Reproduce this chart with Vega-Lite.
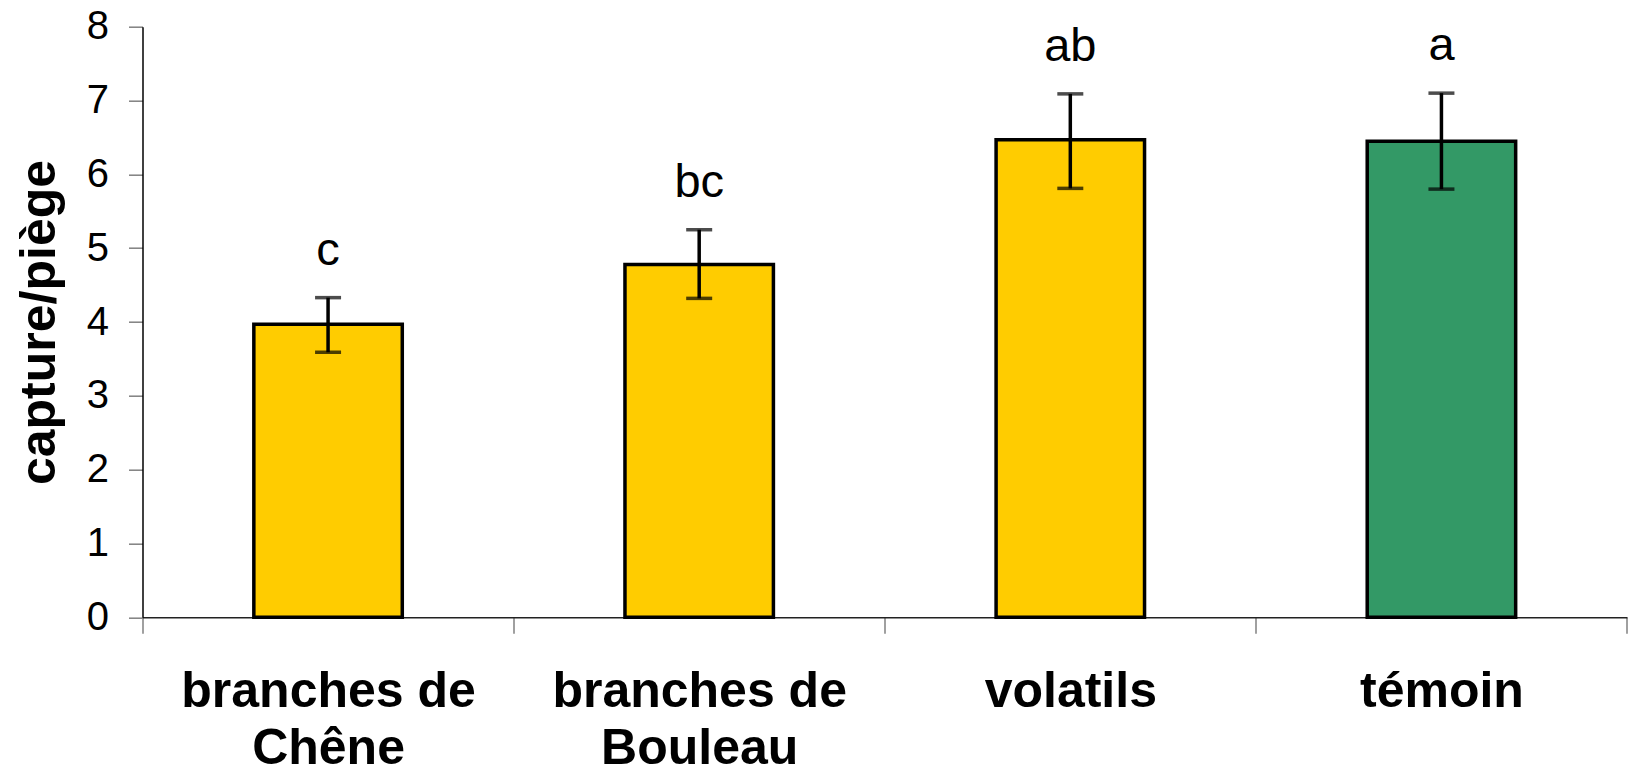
{
  "$schema": "https://vega.github.io/schema/vega-lite/v6.json",
  "width": 1484.5,
  "height": 590.6,
  "autosize": {"type": "none"},
  "padding": {"left": 142.5, "top": 26.7, "right": 4, "bottom": 158.7},
  "background": "white",
  "config": {"view": {"stroke": null}, "font": "Liberation Sans"},
  "data": {
    "values": [
      {"cat": "branches de Chêne", "mean": 3.97, "lower": 3.59, "upper": 4.33, "letter": "c"},
      {"cat": "branches de Bouleau", "mean": 4.78, "lower": 4.32, "upper": 5.25, "letter": "bc"},
      {"cat": "volatils", "mean": 6.47, "lower": 5.81, "upper": 7.09, "letter": "ab"},
      {"cat": "témoin", "mean": 6.45, "lower": 5.80, "upper": 7.10, "letter": "a"}
    ]
  },
  "encoding": {
    "x": {
      "field": "cat",
      "type": "nominal",
      "sort": null,
      "scale": {"paddingInner": 0.6, "paddingOuter": 0.3},
      "axis": {
        "title": null,
        "labelAngle": 0,
        "labelFont": "Liberation Sans",
        "labelFontSize": 50,
        "labelFontWeight": "bold",
        "labelColor": "#000000",
        "labelLimit": 600,
        "labelOverlap": false,
        "labelLineHeight": 57,
        "labelPadding": 33,
        "tickSize": 16,
        "tickColor": "#808080",
        "tickWidth": 1.5,
        "domainColor": "#222222",
        "domainWidth": 1.5,
        "bandPosition": 2.5,
        "tickOffset": -111.34,
        "labelOffset": 111.34,
        "tickExtra": true,
        "labelExpr": "indexof(datum.label, 'branches de ') == 0 ? ['branches de', substring(datum.label, 12)] : datum.label"
      }
    }
  },
  "layer": [
    {
      "mark": {"type": "bar", "stroke": "#000000", "strokeWidth": 3.5},
      "encoding": {
        "y": {
          "field": "mean",
          "type": "quantitative",
          "title": "capture/piège",
          "scale": {"domain": [0, 8]},
          "axis": {
            "values": [0, 1, 2, 3, 4, 5, 6, 7, 8],
            "format": "d",
            "grid": false,
            "tickSize": 14,
            "tickColor": "#808080",
            "tickWidth": 1.5,
            "domainColor": "#000000",
            "domainWidth": 1.5,
            "labelFont": "Liberation Sans",
            "labelFontSize": 40,
            "labelColor": "#000000",
            "labelPadding": 20,
            "titleFont": "Liberation Sans",
            "titleFontSize": 50,
            "titleFontWeight": "bold",
            "titleColor": "#000000",
            "titlePadding": 22
          }
        },
        "color": {
          "field": "cat",
          "type": "nominal",
          "legend": null,
          "scale": {
            "domain": ["branches de Chêne", "branches de Bouleau", "volatils", "témoin"],
            "range": ["#FFCC00", "#FFCC00", "#FFCC00", "#339966"]
          }
        }
      }
    },
    {
      "mark": {"type": "rule", "color": "#000000", "strokeWidth": 3.5},
      "encoding": {
        "y": {"field": "lower", "type": "quantitative", "title": "capture/piège"},
        "y2": {"field": "upper"}
      }
    },
    {
      "mark": {"type": "tick", "color": "#000000", "thickness": 3.5, "size": 26},
      "encoding": {
        "y": {"field": "upper", "type": "quantitative", "title": "capture/piège"}
      }
    },
    {
      "mark": {"type": "tick", "color": "#000000", "thickness": 3.5, "size": 26},
      "encoding": {
        "y": {"field": "lower", "type": "quantitative", "title": "capture/piège"}
      }
    },
    {
      "mark": {"type": "text", "dy": -33, "baseline": "alphabetic", "fontSize": 47, "color": "#000000", "font": "Liberation Sans"},
      "encoding": {
        "y": {"field": "upper", "type": "quantitative", "title": "capture/piège"},
        "text": {"field": "letter"}
      }
    }
  ]
}
